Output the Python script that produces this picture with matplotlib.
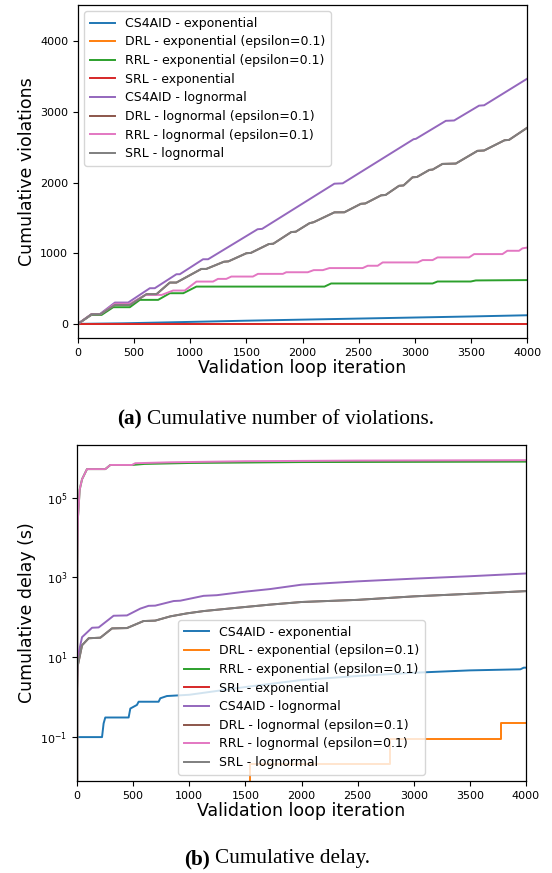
import matplotlib
matplotlib.use("Agg")
import matplotlib.pyplot as plt
from matplotlib.ticker import NullLocator

labels = ["CS4AID - exponential", "DRL - exponential (epsilon=0.1)",
          "RRL - exponential (epsilon=0.1)", "SRL - exponential",
          "CS4AID - lognormal", "DRL - lognormal (epsilon=0.1)",
          "RRL - lognormal (epsilon=0.1)", "SRL - lognormal"]

# (a) cumulative violations as (iteration, value) corners
viol_cs4aid_exp_x = [0, 400, 1000, 1500, 2000, 2500, 3000, 3500, 4000]
viol_cs4aid_exp_y = [0, 8, 28, 45, 60, 75, 90, 105, 122]
viol_drl_exp_x = [0, 4000]
viol_drl_exp_y = [0, 0]
viol_rrl_exp_x = [0, 120, 210, 314, 462, 551, 714, 818, 938, 1055, 2196, 2255, 3159, 3203, 3499, 3544, 4000]
viol_rrl_exp_y = [0, 127, 127, 236, 236, 340, 340, 434, 434, 528, 528, 572, 572, 600, 600, 615, 620]
viol_srl_exp_x = [0, 4000]
viol_srl_exp_y = [0, 0]
viol_cs4aid_log_x = [0, 121, 196, 329, 447, 640, 684, 877, 907, 1114, 1159, 1600, 1640,
                     2284, 2358, 2990, 3010, 3277, 3351, 3573, 3618, 4000]
viol_cs4aid_log_y = [0, 137, 140, 302, 302, 505, 505, 703, 703, 915, 915, 1340, 1345,
                     1985, 1990, 2615, 2620, 2875, 2880, 3090, 3095, 3470]
viol_srl_log_x = [0, 121, 200, 329, 462, 610, 699, 818, 877, 1099, 1143, 1300, 1340, 1500,
                  1540, 1700, 1740, 1900, 1940, 2062, 2100, 2284, 2373, 2520, 2560, 2700,
                  2740, 2860, 2900, 2980, 3020, 3130, 3160, 3247, 3366, 3559, 3618, 3800,
                  3840, 4000]
viol_srl_log_y = [0, 137, 137, 269, 269, 420, 420, 585, 585, 778, 778, 880, 885, 1000,
                  1005, 1130, 1135, 1300, 1305, 1425, 1440, 1579, 1580, 1700, 1705, 1820,
                  1825, 1955, 1960, 2075, 2080, 2180, 2185, 2265, 2270, 2450, 2455, 2600,
                  2605, 2775]
viol_drl_log_x = viol_srl_log_x
viol_drl_log_y = viol_srl_log_y
viol_rrl_log_x = [0, 121, 200, 329, 462, 600, 745, 847, 951, 1055, 1203, 1247, 1321, 1366,
                  1558, 1603, 1825, 1855, 2047, 2100, 2181, 2240, 2536, 2581, 2670, 2714,
                  3025, 3070, 3159, 3203, 3484, 3529, 3781, 3825, 3929, 3959, 4000]
viol_rrl_log_y = [0, 137, 137, 285, 285, 410, 410, 472, 472, 599, 599, 637, 637, 670,
                  670, 708, 708, 731, 731, 761, 761, 790, 790, 823, 823, 870,
                  870, 903, 903, 941, 941, 988, 988, 1035, 1035, 1069, 1080]

# (b) cumulative delay in seconds (0 = nothing yet, falls off the log axis)
delay_cs4aid_exp_x = [0, 223, 237, 252, 460, 475, 534, 549, 727, 742, 801, 1000, 1500,
                      2000, 2500, 3000, 3500, 3950, 3980, 4000]
delay_cs4aid_exp_y = [0.1, 0.1, 0.22, 0.31, 0.31, 0.52, 0.64, 0.77, 0.77, 0.94, 1.07,
                      1.15, 1.8, 2.7, 3.4, 4.1, 4.7, 5.0, 5.5, 5.5]
delay_drl_exp_x = [0, 1545, 2785, 3780, 4000]
delay_drl_exp_y = [0, 0.021, 0.092, 0.22, 0.22]
delay_rrl_exp_x = [0, 3, 8, 24, 45, 89, 252, 297, 490, 600, 1000, 2000, 4000]
delay_rrl_exp_y = [0, 2e3, 3e4, 1.6e5, 2.9e5, 5.2e5, 5.2e5, 6.6e5, 6.6e5, 7.0e5, 7.4e5,
                   7.8e5, 8.0e5]
delay_srl_exp_x = [0, 4000]
delay_srl_exp_y = [0, 0]
delay_cs4aid_log_x = [0, 6, 45, 134, 193, 326, 445, 564, 638, 697, 861, 920, 1128, 1246,
                      1484, 1721, 2000, 2500, 3000, 3500, 4000]
delay_cs4aid_log_y = [3, 10, 32, 55, 56, 110, 112, 166, 195, 197, 257, 262, 347, 360,
                      437, 513, 660, 800, 935, 1075, 1260]
delay_srl_log_x = [0, 6, 45, 104, 208, 312, 445, 593, 697, 831, 979, 1128, 1424, 1721,
                   2000, 2500, 3000, 3500, 4000]
delay_srl_log_y = [1.5, 6, 20, 30, 31, 53, 54, 81, 83, 106, 126, 144, 174, 209,
                   243, 275, 336, 390, 455]
delay_drl_log_x = delay_srl_log_x
delay_drl_log_y = delay_srl_log_y
delay_rrl_log_x = [0, 3, 8, 24, 45, 89, 252, 297, 490, 519, 831, 1500, 2500, 4000]
delay_rrl_log_y = [0, 2e3, 3e4, 1.6e5, 2.9e5, 5.2e5, 5.2e5, 6.6e5, 6.6e5, 7.3e5, 7.7e5,
                   8.2e5, 8.5e5, 8.7e5]

TICK_FS = 8
LABEL_FS = 12.5
LEGEND_FS = 9
CAPTION_FS = 15.3
LW = 1.4


def style_axes(ax):
    ax.set_xlim(0, 4000)
    ax.set_xticks(range(0, 4001, 500))
    ax.tick_params(labelsize=TICK_FS, length=3.5, width=0.8)
    ax.set_xlabel("Validation loop iteration", fontsize=LABEL_FS, labelpad=1)
    for s in ax.spines.values():
        s.set_linewidth(0.9)


def plot_violations(ax):
    series = [(viol_cs4aid_exp_x, viol_cs4aid_exp_y), (viol_drl_exp_x, viol_drl_exp_y),
              (viol_rrl_exp_x, viol_rrl_exp_y), (viol_srl_exp_x, viol_srl_exp_y),
              (viol_cs4aid_log_x, viol_cs4aid_log_y), (viol_drl_log_x, viol_drl_log_y),
              (viol_rrl_log_x, viol_rrl_log_y), (viol_srl_log_x, viol_srl_log_y)]
    for i, (x, y) in enumerate(series):
        ax.plot(x, y, color=f"C{i}", lw=LW, label=labels[i])
    ax.set_ylim(-200, 4515)
    ax.set_yticks(range(0, 4001, 1000))
    ax.set_ylabel("Cumulative violations", fontsize=LABEL_FS, labelpad=3)
    style_axes(ax)
    ax.legend(loc="upper left", fontsize=LEGEND_FS, handlelength=2.0,
              labelspacing=0.45, borderpad=0.45)


def plot_delay(ax):
    series = [(delay_cs4aid_exp_x, delay_cs4aid_exp_y), (delay_drl_exp_x, delay_drl_exp_y),
              (delay_rrl_exp_x, delay_rrl_exp_y), (delay_srl_exp_x, delay_srl_exp_y),
              (delay_cs4aid_log_x, delay_cs4aid_log_y), (delay_drl_log_x, delay_drl_log_y),
              (delay_rrl_log_x, delay_rrl_log_y), (delay_srl_log_x, delay_srl_log_y)]
    for i, (x, y) in enumerate(series):
        if i == 1:
            ax.step(x, y, where="post", color=f"C{i}", lw=LW, label=labels[i])
        else:
            ax.plot(x, y, color=f"C{i}", lw=LW, label=labels[i])
    ax.set_yscale("log")
    ax.set_ylim(10 ** -2.1, 10 ** 6.32)
    ax.set_yticks([1e-1, 1e1, 1e3, 1e5])
    ax.yaxis.set_minor_locator(NullLocator())
    ax.set_ylabel("Cumulative delay (s)", fontsize=LABEL_FS, labelpad=3)
    style_axes(ax)
    ax.legend(loc="lower center", fontsize=LEGEND_FS, handlelength=2.0,
              labelspacing=0.45, borderpad=0.45)


def caption(fig, x_tag, x_text, y, tag, text):
    fig.text(x_tag / 552, 1 - y / 873, tag, fontsize=CAPTION_FS, fontweight="bold",
             family="Liberation Serif", va="center")
    fig.text(x_text / 552, 1 - y / 873, text, fontsize=CAPTION_FS,
             family="Liberation Serif", va="center")


def main():
    fig = plt.figure(figsize=(5.52, 8.73), dpi=100)
    ax1 = fig.add_axes([78 / 552, 1 - 338 / 873, 449 / 552, 333 / 873])
    ax2 = fig.add_axes([77 / 552, 1 - 781 / 873, 449 / 552, 336 / 873])
    plot_violations(ax1)
    plot_delay(ax2)
    caption(fig, 117, 147, 419, "(a)", "Cumulative number of violations.")
    caption(fig, 184, 215, 859, "(b)", "Cumulative delay.")
    fig.savefig("out.png", dpi=100)


if __name__ == "__main__":
    main()
